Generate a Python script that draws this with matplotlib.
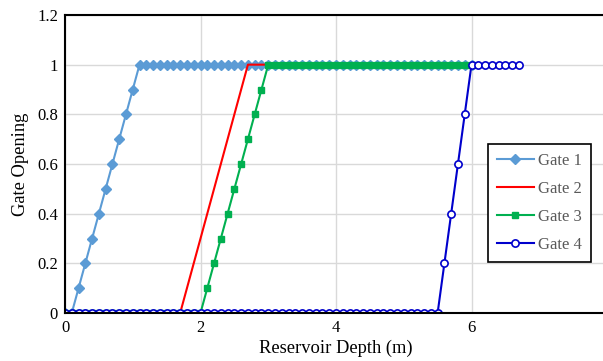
import numpy as np
import matplotlib
matplotlib.use("Agg")
import matplotlib.pyplot as plt

plt.rcParams['font.family'] = ['Liberation Serif', 'DejaVu Serif']

# Reservoir depth grids (m)
depth_1_3 = [round(0.1 * i, 1) for i in range(61)]   # 0.0 .. 6.0
depth_4 = [round(0.1 * i, 1) for i in range(68)]     # 0.0 .. 6.7

gate1 = [0, 0, 0.1, 0.2, 0.3, 0.4, 0.5, 0.6, 0.7, 0.8, 0.9, 1,
         1, 1, 1, 1, 1, 1, 1, 1, 1, 1, 1, 1, 1, 1, 1, 1, 1, 1, 1, 1, 1, 1, 1, 1, 1,
         1, 1, 1, 1, 1, 1, 1, 1, 1, 1, 1, 1, 1, 1, 1, 1, 1, 1, 1, 1, 1, 1, 1, 1]
gate2 = [0, 0, 0, 0, 0, 0, 0, 0, 0, 0, 0, 0, 0, 0, 0, 0, 0, 0,
         0.1, 0.2, 0.3, 0.4, 0.5, 0.6, 0.7, 0.8, 0.9,
         1, 1, 1, 1, 1, 1, 1, 1, 1, 1, 1, 1, 1, 1, 1, 1, 1, 1, 1, 1, 1, 1, 1, 1, 1,
         1, 1, 1, 1, 1, 1, 1, 1, 1]
gate3 = [0, 0, 0, 0, 0, 0, 0, 0, 0, 0, 0, 0, 0, 0, 0, 0, 0, 0, 0, 0, 0,
         0.1, 0.2, 0.3, 0.4, 0.5, 0.6, 0.7, 0.8, 0.9,
         1, 1, 1, 1, 1, 1, 1, 1, 1, 1, 1, 1, 1, 1, 1, 1, 1, 1, 1, 1, 1,
         1, 1, 1, 1, 1, 1, 1, 1, 1, 1]
gate4 = [0, 0, 0, 0, 0, 0, 0, 0, 0, 0, 0, 0, 0, 0, 0, 0, 0, 0, 0, 0,
         0, 0, 0, 0, 0, 0, 0, 0, 0, 0, 0, 0, 0, 0, 0, 0, 0, 0, 0, 0,
         0, 0, 0, 0, 0, 0, 0, 0, 0, 0, 0, 0, 0, 0, 0, 0,
         0.2, 0.4, 0.6, 0.8,
         1, 1, 1, 1, 1, 1, 1, 1]

labels = ['Gate 1', 'Gate 2', 'Gate 3', 'Gate 4']
xticks = [0, 2, 4, 6]
yticks = [0, 0.2, 0.4, 0.6, 0.8, 1, 1.2]
ytick_labels = ['0', '0.2', '0.4', '0.6', '0.8', '1', '1.2']

fig = plt.figure(figsize=(6.03, 3.61), dpi=100)
ax = fig.add_axes([65 / 603, 48 / 361, 542 / 603, 298 / 361])

ax.plot(depth_1_3, gate1, color='#5B9BD5', lw=1.5, marker='D', ms=4.8,
        mec='#5B9BD5', mfc='#5B9BD5', label=labels[0])
ax.plot(depth_1_3, gate2, color='#FF0000', lw=1.5, label=labels[1])
ax.plot(depth_1_3, gate3, color='#00B050', lw=1.5, marker='s', ms=4.5,
        mec='#00B050', mfc='#00B050', label=labels[2])
ax.plot(depth_4, gate4, color='#0000CC', lw=1.5, marker='o', ms=5.2,
        mec='#0000CC', mfc='white', mew=1.2, label=labels[3])

ax.set_xlim(0, 8)
ax.set_ylim(0, 1.2)
ax.set_xticks(xticks)
ax.set_yticks(yticks)
ax.set_yticklabels(ytick_labels)
ax.tick_params(length=0, labelsize=12, colors='black')
ax.tick_params(axis='x', pad=5)
ax.tick_params(axis='y', pad=5)
ax.grid(True, color='#D9D9D9', lw=1)
ax.set_axisbelow(True)
for s in ['top', 'bottom', 'left']:
    ax.spines[s].set_color('black')
    ax.spines[s].set_linewidth(1.5)
ax.spines['right'].set_visible(False)

ax.set_xlabel('Reservoir Depth (m)', fontsize=13.3, labelpad=2.5)
ax.set_ylabel('Gate Opening', fontsize=13.3, labelpad=6)

leg = ax.legend(loc='upper left', bbox_to_anchor=(0.78, 0.567),
                fontsize=12, fancybox=False, edgecolor='black',
                framealpha=1, handlelength=2.2, labelspacing=0.72,
                borderpad=0.55, handletextpad=0.25, borderaxespad=0)
leg.get_frame().set_linewidth(1.2)
for t in leg.get_texts():
    t.set_color('#595959')

fig.savefig('out.png', dpi=100)
